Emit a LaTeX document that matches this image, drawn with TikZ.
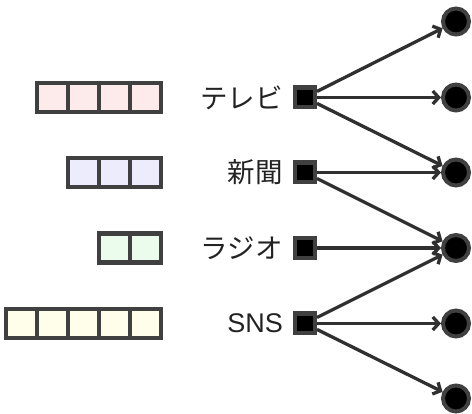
\documentclass[tikz,border=0pt]{standalone}
\usepackage{fontspec}
\setmainfont{Liberation Sans}
\newfontfamily\jpfont{Noto Sans CJK JP}
\usetikzlibrary{arrows.meta}
\definecolor{edgegray}{HTML}{404040}
\definecolor{linegray}{HTML}{303030}
\definecolor{txt}{HTML}{222222}
\definecolor{fillpink}{HTML}{FDEAEA}
\definecolor{fillblue}{HTML}{ECECFC}
\definecolor{fillgreen}{HTML}{ECFCEC}
\definecolor{fillyellow}{HTML}{FEFEEA}
\tikzset{
  src/.style={draw=edgegray, fill=black, line width=4.4pt, rectangle,
    minimum size=19.6pt, inner sep=0pt},
  dst/.style={draw=edgegray, fill=black, line width=4pt,
    circle, minimum size=26pt, inner sep=0pt},
  lbl/.style={anchor=east, text=txt, inner sep=0pt},
  jplbl/.style={lbl, font=\jpfont\fontsize{27.5}{32}\selectfont},
  latlbl/.style={lbl, font=\fontsize{27}{32}\selectfont},
  cell/.style={draw=edgegray, line width=4.4pt},
  link/.style={draw=linegray, line width=3.3pt,
    -{Straight Barb[length=6pt,width=13pt,line width=3.3pt]}},
}
% row of equal cells whose right edge lies at x = 161
\newcommand{\cellrow}[3]{% #1 cells, #2 centre y, #3 fill
  \foreach \k in {1,...,#1}{
    \path[cell, fill=#3] (161-\k*31, #2-14.5) rectangle ++(31, 29);
  }
}
\begin{document}
\begin{tikzpicture}[x=1pt, y=-1pt]
  \useasboundingbox (0,0) rectangle (472,414);

  % colour bars
  \cellrow{4}{97.5}{fillpink}
  \cellrow{3}{172.5}{fillblue}
  \cellrow{2}{248}{fillgreen}
  \cellrow{5}{323.5}{fillyellow}

  % media labels
  \node[jplbl]  (ltv)    at (283, 97.5)  {テレビ};
  \node[jplbl]  (lnews)  at (283, 172.5) {新聞};
  \node[jplbl]  (lradio) at (283, 248)   {ラジオ};
  \node[latlbl] (lsns)   at (283, 323.5) {SNS};

  % source squares
  \node[src] (tv)    at (305, 97.5)  {};
  \node[src] (news)  at (305, 172.5) {};
  \node[src] (radio) at (305, 248)   {};
  \node[src] (sns)   at (305, 323.5) {};

  % target circles
  \node[dst] (c1) at (456, 21.5)  {};
  \node[dst] (c2) at (456, 97.5)  {};
  \node[dst] (c3) at (456, 172.5) {};
  \node[dst] (c4) at (456, 248)   {};
  \node[dst] (c5) at (456, 323.5) {};
  \node[dst] (c6) at (456, 398.5) {};

  % links
  \draw[link] (tv) -- (c1);
  \draw[link] (tv) -- (c2);
  \draw[link] (tv) -- (c3);
  \draw[link] (news) -- (c3);
  \draw[link] (news) -- (c4);
  \draw[link] (radio) -- (c4);
  \draw[link] (sns) -- (c4);
  \draw[link] (sns) -- (c5);
  \draw[link] (sns) -- (c6);
\end{tikzpicture}
\end{document}
